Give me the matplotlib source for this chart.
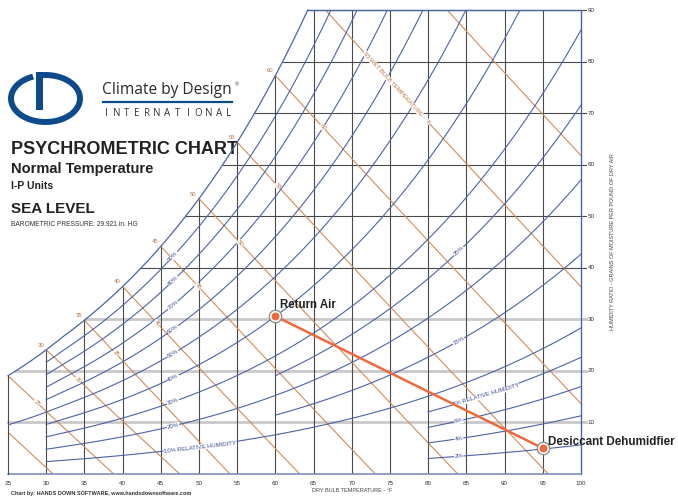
import numpy as np
import matplotlib
matplotlib.use("Agg")
import matplotlib.pyplot as plt
from matplotlib.patches import Rectangle

plt.rcParams['font.family'] = ['Liberation Sans', 'DejaVu Sans']

# chart scales (dry bulb in F, humidity ratio in grains/lb)
db_ticks = [25, 30, 35, 40, 45, 50, 55, 60, 65, 70, 75, 80, 85, 90, 95, 100]
grain_ticks = [10, 20, 30, 40, 50, 60, 70, 80, 90]

# relative humidity curves and the dry bulb where each one starts
rh_main = [10, 20, 30, 40, 60, 70, 80, 90]
rh_main_start = 30
rh_fifty = 50
rh_fifty_start = 25
rh_mid = [15, 25]
rh_mid_start = 60
rh_dry = [2, 4, 6, 8]
rh_dry_start = 80

# wet bulb lines
wb_temps = [20, 25, 30, 35, 40, 45, 50, 55, 60, 65, 70]
wb_sat_labels = [30, 35, 40, 45, 50, 55, 60]
wb_mid_labels = [25, 30, 35, 40, 45, 50, 55, 60]
wb_mid_at = [28.8, 34.2, 39.1, 44.5, 49.9, 55.4, 60.3, 66.2]

# process line
point_names = ["Return Air", "Desiccant Dehumidfier"]
point_db = [60, 95]
point_gr = [30.6, 5.0]

P_ATM = 14.696
W_TOP = 90
BLUE = '#4c63a6'
ORANGE = '#d08c58'
DARK = '#4a4a4a'
LIGHT = '#c9c9c9'
RED = '#ee6a3c'


def p_sat(t):
    # saturation pressure, psia (ASHRAE Hyland-Wexler, I-P)
    T = np.asarray(t, dtype=float) + 459.67
    ice = np.exp(-1.0214165e4 / T - 4.8932428 - 5.3765794e-3 * T + 1.9202377e-7 * T**2
                 + 3.5575832e-10 * T**3 - 9.0344688e-14 * T**4 + 4.1635019 * np.log(T))
    wat = np.exp(-1.0440397e4 / T - 1.1294650e1 - 2.7022355e-2 * T + 1.2890360e-5 * T**2
                 - 2.4780681e-9 * T**3 + 6.5459673 * np.log(T))
    return np.where(T < 491.67, ice, wat)


def grains(t, rh):
    pw = rh / 100.0 * p_sat(t)
    return 7000 * 0.621945 * pw / (P_ATM - pw)


def grains_wb(t, twb):
    ws = grains(twb, 100) / 7000
    if twb >= 32:
        w = ((1093 - 0.556 * twb) * ws - 0.240 * (t - twb)) / (1093 + 0.444 * t - twb)
    else:
        w = ((1220 - 0.04 * twb) * ws - 0.240 * (t - twb)) / (1220 + 0.444 * t - 0.48 * twb)
    return 7000 * w


tt = np.linspace(25, 100, 1501)
wsat = grains(tt, 100)


def sat_temp(w):
    return np.interp(w, wsat, tt)


fig = plt.figure(figsize=(6.78, 4.96), dpi=100)
ov = fig.add_axes([0, 0, 1, 1])
ov.set_xlim(0, 678)
ov.set_ylim(496, 0)
ov.axis('off')
ax = fig.add_axes([8 / 678, 22 / 496, 573 / 678, 464 / 496])
ax.set_xlim(25, 100)
ax.set_ylim(0, 90)
ax.axis('off')


def angle(x0, y0, x1, y1):
    p = ax.transData.transform([[x0, y0], [x1, y1]])
    return np.degrees(np.arctan2(p[1, 1] - p[0, 1], p[1, 0] - p[0, 0]))


# dry bulb verticals
for t in db_ticks[1:-1]:
    top = min(grains(t, 100), W_TOP)
    ax.plot([t, t], [0, top], color=DARK, lw=0.8, zorder=1)
# humidity ratio horizontals, with short ticks past the right edge
for w in grain_ticks:
    start = max(25, sat_temp(w))
    light = w <= 30
    ax.plot([start, 100.65], [w, w], color=LIGHT if light else DARK,
            lw=2.0 if light else 0.8, clip_on=False, zorder=0.9)
    ax.text(100.9, w, str(w), fontsize=4.5, color='#333333', va='center', ha='left')

# saturation curve and chart boundary
t_end = sat_temp(W_TOP)
ts = np.linspace(25, t_end, 300)
ax.plot(ts, grains(ts, 100), color=BLUE, lw=0.9, clip_on=False, zorder=2)
ax.plot([t_end, 100, 100], [W_TOP, W_TOP, 0], color=BLUE, lw=1.0, clip_on=False, zorder=2)
ax.plot([25, 100], [0, 0], color='#7f8fbf', lw=1.2, clip_on=False, zorder=2)
ax.plot([25, 25], [0, grains(25, 100)], color=DARK, lw=0.8, clip_on=False, zorder=2)
for t in db_ticks:
    ax.text(t, -1.8, str(t), fontsize=4.5, color='#333333', ha='center', va='center')

# relative humidity curves
curves = [(r, rh_main_start) for r in rh_main] + [(rh_fifty, rh_fifty_start)]
curves += [(r, rh_mid_start) for r in rh_mid] + [(r, rh_dry_start) for r in rh_dry]
for rh, t0 in curves:
    t = np.linspace(t0, 100, 400)
    ax.plot(t, grains(t, rh), color=BLUE, lw=0.8, zorder=2)


def rh_label(text, rh, t, ha='center'):
    w = grains(t, rh)
    rot = angle(t - 0.5, grains(t - 0.5, rh), t + 0.5, grains(t + 0.5, rh))
    ax.text(t, w, text, fontsize=4.3, color='#3b4f96', rotation=rot, ha=ha, va='center',
            rotation_mode='anchor', zorder=3,
            bbox=dict(facecolor='white', edgecolor='none', pad=0.2))


for rh in [20, 30, 40, 50, 60, 70, 80, 90]:
    rh_label(f"{rh}%", rh, 46.6)
rh_label("10% RELATIVE HUMIDITY", 10, 45.4, ha='left')
for rh in [2, 4, 6, 15, 25]:
    rh_label(f"{rh}%", rh, 84.0)
rh_label("8% RELATIVE HUMIDITY", 8, 83.2, ha='left')

# wet bulb lines (the coldest one enters from the left edge)
for twb in wb_temps:
    t = np.linspace(max(twb, 25), 100, 200)
    ax.plot(t, grains_wb(t, twb), color=ORANGE, lw=0.8, zorder=1.5)
for twb in wb_sat_labels:
    ax.annotate(str(twb), (twb, grains(twb, 100)), xytext=(-1.5, 1.5), textcoords='offset points',
                fontsize=4.3, color='#b8743f', ha='right', va='bottom')
for twb, t in zip(wb_mid_labels, wb_mid_at):
    rot = angle(t - 1, grains_wb(t - 1, twb), t + 1, grains_wb(t + 1, twb))
    ax.text(t, grains_wb(t, twb), str(twb), fontsize=4.3, color='#b8743f', rotation=rot,
            ha='center', va='center', rotation_mode='anchor', zorder=3,
            bbox=dict(facecolor='white', edgecolor='none', pad=0.2))
rot = angle(75, grains_wb(75, 65), 77, grains_wb(77, 65))
ax.text(75.9, grains_wb(75.9, 65), "65 WET BULB TEMPERATURE - \u00b0F", fontsize=4.3,
        color='#b8743f', rotation=rot, ha='center', va='center', rotation_mode='anchor',
        zorder=3, bbox=dict(facecolor='white', edgecolor='none', pad=0.2))

# process line between the two states
ax.plot(point_db, point_gr, color=RED, lw=1.8, zorder=5, solid_capstyle='round')
ax.scatter(point_db, point_gr, s=80, facecolor='white', edgecolor='#8a8a8a', lw=0.9, zorder=6)
ax.scatter(point_db, point_gr, s=22, color=RED, zorder=7)
ax.annotate(point_names[0], (point_db[0], point_gr[0]), xytext=(3.5, 3.5),
            textcoords='offset points', fontsize=8.3, fontweight='bold', color='#222222',
            ha='left', va='bottom', zorder=8)
ax.annotate(point_names[1], (point_db[1], point_gr[1]), xytext=(3.5, 0),
            textcoords='offset points', fontsize=8.4, fontweight='bold', color='#222222',
            ha='left', va='bottom', zorder=8, annotation_clip=False)

# axis titles and credit
ov.text(312, 490, "DRY BULB TEMPERATURE - \u00b0F", fontsize=4, color='#444444', va='center')
ov.text(613, 242, "HUMIDITY RATIO - GRAINS OF MOISTURE PER POUND OF DRY AIR", fontsize=4,
        color='#444444', rotation=90, ha='center', va='center')
ov.text(11, 493, "Chart by: HANDS DOWN SOFTWARE, www.handsdownsoftware.com", fontsize=4,
        fontweight='bold', color='#333333', va='center')

# logo
LOGO = '#0d4a8c'
th = np.radians(np.linspace(111, 458, 300))
ov.plot(45.5 + 34.5 * np.cos(th), 98.5 - 23.5 * np.sin(th), color=LOGO, lw=4.3,
        solid_capstyle='butt')
ov.add_patch(Rectangle((35.5, 72), 7, 38, color=LOGO, lw=0))
ov.text(102, 94, "Climate by Design", fontsize=11.2, color='#2a2a2a', family='Open Sans',
        va='baseline')
ov.text(235, 86, "\u00ae", fontsize=4, color='#444444', va='baseline')
ov.plot([103, 232], [102, 102], color=LOGO, lw=1.6)
for i, ch in enumerate("INTERNATIONAL"):
    ov.text(106 + i * 10.25, 116, ch, fontsize=7, color='#333333', family='Open Sans',
            va='baseline', ha='center')

# title block
ov.text(11, 154, "PSYCHROMETRIC CHART", fontsize=13, fontweight='bold', color='#222222',
        va='baseline')
ov.text(11, 173, "Normal Temperature", fontsize=10.5, fontweight='bold', color='#222222',
        va='baseline')
ov.text(11, 189, "I-P Units", fontsize=7.5, fontweight='bold', color='#222222', va='baseline')
ov.text(11, 213, "SEA LEVEL", fontsize=11, fontweight='bold', color='#222222', va='baseline')
ov.text(11, 226, "BAROMETRIC PRESSURE: 29.921 in. HG", fontsize=4.8, color='#333333',
        va='baseline')

fig.savefig("out.png", dpi=100)
